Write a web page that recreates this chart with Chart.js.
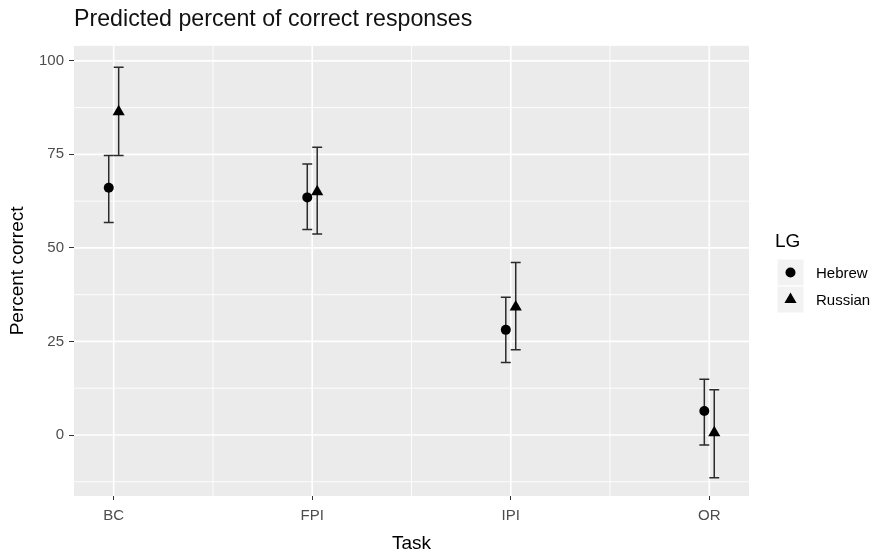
<!DOCTYPE html>
<html><head><meta charset="utf-8">
<script src="https://cdn.jsdelivr.net/npm/chart.js@4.4.1/dist/chart.umd.min.js"></script>
<style>html,body{margin:0;padding:0;background:#fff;}#wrap{width:877px;height:555px;position:relative;}</style>
</head><body><div id="wrap"><canvas id="c" width="877" height="555"></canvas></div>
<script>
const categories = ['BC', 'FPI', 'IPI', 'OR'];
const groups = ['Hebrew', 'Russian'];
const hebrewMean = [66.1, 63.5, 28.1, 6.4];
const hebrewLow = [56.8, 54.9, 19.4, -2.7];
const hebrewHigh = [74.7, 72.4, 36.8, 14.9];
const russianMean = [86.4, 65.0, 34.2, 0.6];
const russianLow = [74.7, 53.7, 22.8, -11.4];
const russianHigh = [98.3, 76.9, 46.1, 12.1];
const yTicks = [0, 25, 50, 75, 100];
const yMinorTicks = [-12.5, 12.5, 37.5, 62.5, 87.5];

const FONT = "'Liberation Sans', Arial, sans-serif";
Chart.defaults.font.family = FONT;
const DODGE = 0.025, CAP = 0.025;

function build(mean, lo, hi, side) {
  return categories.map((c, i) => ({ x: i + 1 + side * DODGE, y: mean[i], lo: lo[i], hi: hi[i] }));
}

const panelPlugin = {
  id: 'panel',
  beforeDraw(chart) {
    const { ctx, chartArea: a, scales: { x, y } } = chart;
    ctx.save();
    ctx.fillStyle = '#ebebeb';
    ctx.fillRect(a.left, a.top, a.right - a.left, a.bottom - a.top);
    ctx.strokeStyle = '#ffffff';
    ctx.lineWidth = 0.9;
    yMinorTicks.forEach(v => { const p = y.getPixelForValue(v); ctx.beginPath(); ctx.moveTo(a.left, p); ctx.lineTo(a.right, p); ctx.stroke(); });
    categories.slice(1).forEach((c, i) => { const p = x.getPixelForValue(i + 1.5); ctx.beginPath(); ctx.moveTo(p, a.top); ctx.lineTo(p, a.bottom); ctx.stroke(); });
    ctx.lineWidth = 1.7;
    yTicks.forEach(v => { const p = y.getPixelForValue(v); ctx.beginPath(); ctx.moveTo(a.left, p); ctx.lineTo(a.right, p); ctx.stroke(); });
    categories.forEach((c, i) => { const p = x.getPixelForValue(i + 1); ctx.beginPath(); ctx.moveTo(p, a.top); ctx.lineTo(p, a.bottom); ctx.stroke(); });
    ctx.restore();
  },
  beforeDatasetsDraw(chart) {
    const { ctx, scales: { x, y } } = chart;
    ctx.save();
    ctx.strokeStyle = '#2b2b2b';
    ctx.lineWidth = 1.5;
    chart.data.datasets.forEach(ds => {
      ds.data.forEach(d => {
        const px = x.getPixelForValue(d.x);
        const l = x.getPixelForValue(d.x - CAP), r = x.getPixelForValue(d.x + CAP);
        const t = y.getPixelForValue(d.hi), b = y.getPixelForValue(d.lo);
        ctx.beginPath();
        ctx.moveTo(px, t); ctx.lineTo(px, b);
        ctx.moveTo(l, t); ctx.lineTo(r, t);
        ctx.moveTo(l, b); ctx.lineTo(r, b);
        ctx.stroke();
      });
    });
    ctx.restore();
  },
  afterDraw(chart) {
    const { ctx, chartArea: a } = chart;
    const lx = a.right + 26;
    ctx.save();
    ctx.fillStyle = '#000';
    ctx.font = "19px " + FONT;
    ctx.textBaseline = 'alphabetic';
    ctx.textAlign = 'left';
    ctx.fillText('LG', lx, 247);
    const keyTop = 259, keyH = 27, keyW = 27;
    chart.data.datasets.forEach((ds, i) => {
      const ky = keyTop + i * keyH;
      ctx.fillStyle = '#f2f2f2';
      ctx.fillRect(lx + 2, ky, keyW, keyH);
      ctx.strokeStyle = '#ffffff'; ctx.lineWidth = 1;
      ctx.strokeRect(lx + 2, ky, keyW, keyH);
      const cx = lx + 2 + keyW / 2, cy = ky + keyH / 2;
      ctx.fillStyle = '#000';
      ctx.beginPath();
      if (ds.pointStyle === 'triangle') {
        const r = ds.pointRadius;
        ctx.moveTo(cx, cy - r);
        ctx.lineTo(cx + r * Math.sin(2 * Math.PI / 3), cy - r * Math.cos(2 * Math.PI / 3));
        ctx.lineTo(cx + r * Math.sin(4 * Math.PI / 3), cy - r * Math.cos(4 * Math.PI / 3));
        ctx.closePath();
      } else {
        ctx.arc(cx, cy, ds.pointRadius, 0, Math.PI * 2);
      }
      ctx.fill();
      ctx.font = "15px " + FONT;
      ctx.textBaseline = 'middle';
      ctx.fillText(ds.label, lx + 2 + keyW + 12, cy + 1);
    });
    ctx.restore();
  }
};

new Chart(document.getElementById('c'), {
  type: 'scatter',
  data: {
    datasets: [
      { label: groups[0], data: build(hebrewMean, hebrewLow, hebrewHigh, -1), pointStyle: 'circle', pointRadius: 5, backgroundColor: '#000', borderColor: '#000', borderWidth: 0 },
      { label: groups[1], data: build(russianMean, russianLow, russianHigh, 1), pointStyle: 'triangle', pointRadius: 7, backgroundColor: '#000', borderColor: '#000', borderWidth: 0 }
    ]
  },
  options: {
    responsive: false,
    animation: false,
    devicePixelRatio: 1,
    layout: { padding: { left: 0, right: 128, top: 0, bottom: 0 } },
    plugins: {
      legend: { display: false },
      tooltip: { enabled: false },
      title: {
        display: true, text: 'Predicted percent of correct responses', align: 'start', fullSize: false,
        color: '#111', font: { size: 23.2, weight: 'normal' }, padding: { top: 6, bottom: 12 }
      }
    },
    scales: {
      x: {
        type: 'linear', min: 0.8, max: 4.2,
        afterBuildTicks: s => { s.ticks = categories.map((c, i) => ({ value: i + 1 })); },
        afterFit: s => { s.height = 59; },
        ticks: { callback: (v, i) => categories[i], font: { size: 15 }, color: '#4d4d4d', padding: 7, autoSkip: false, maxRotation: 0 },
        grid: { drawOnChartArea: false, drawTicks: true, tickLength: 4, tickColor: '#333333', tickWidth: 1 },
        border: { display: false },
        title: { display: true, text: 'Task', color: '#000', font: { size: 19 }, padding: { top: 0, bottom: 0 } }
      },
      y: {
        type: 'linear', min: -16.3, max: 104,
        afterBuildTicks: s => { s.ticks = yTicks.map(v => ({ value: v })); },
        afterFit: s => { s.width = 74; },
        ticks: { font: { size: 15 }, color: '#4d4d4d', padding: 5 },
        grid: { drawOnChartArea: false, drawTicks: true, tickLength: 5, tickColor: '#333333', tickWidth: 1 },
        border: { display: false },
        title: { display: true, text: 'Percent correct', color: '#000', font: { size: 19 }, padding: { top: 6, bottom: 0 } }
      }
    }
  },
  plugins: [panelPlugin]
});
</script></body></html>
